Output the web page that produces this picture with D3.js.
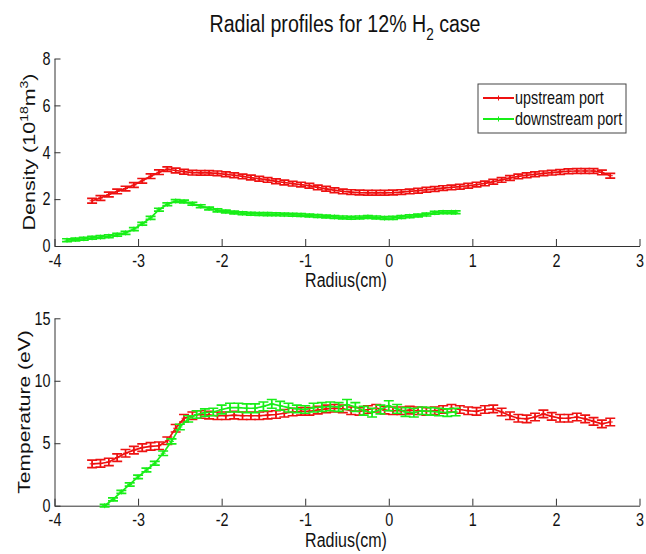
<!DOCTYPE html>
<html>
<head>
<meta charset="utf-8">
<script src="https://cdn.jsdelivr.net/npm/d3@7"></script>
<style>
  body { margin: 0; background: #fff; }
  svg text { font-family: "Liberation Sans", Arial, sans-serif; fill: #111; }
</style>
</head>
<body>
<div id="chart"></div>
<script>
// upstream port (red) – radius in cm
var upRadius = [-3.55,-3.45,-3.35,-3.25,-3.15,-3.05,-2.95,-2.85,-2.75,-2.65,-2.55,-2.45,-2.35,-2.25,-2.15,-2.05,
	-1.95,-1.85,-1.75,-1.65,-1.55,-1.45,-1.35,-1.25,-1.15,-1.05,-0.95,-0.85,-0.75,-0.65,-0.55,-0.45,-0.35,-0.25,
	-0.15,-0.05,0.05,0.15,0.25,0.35,0.45,0.55,0.65,0.75,0.85,0.95,1.05,1.15,1.25,1.35,1.45,1.55,1.65,1.75,1.85,
	1.95,2.05,2.15,2.25,2.35,2.45,2.55,2.65];
var upDensity = [1.93,2.05,2.2,2.33,2.45,2.6,2.78,2.98,3.15,3.28,3.22,3.17,3.13,3.12,3.12,3.1,
	3.06,3.02,2.97,2.92,2.87,2.82,2.76,2.71,2.66,2.62,2.57,2.5,2.44,2.38,2.33,2.3,2.28,2.27,
	2.27,2.27,2.28,2.3,2.33,2.36,2.4,2.43,2.47,2.5,2.53,2.57,2.62,2.67,2.74,2.82,2.9,2.97,3.02,3.06,3.1,
	3.13,3.16,3.19,3.2,3.2,3.2,3.14,3.0];
var upTemp = [3.35,3.38,3.5,3.85,4.2,4.45,4.65,4.75,4.8,5.2,6.2,7.0,7.2,7.3,7.25,7.2,
	7.2,7.25,7.2,7.2,7.2,7.25,7.3,7.4,7.5,7.55,7.55,7.65,7.75,7.8,7.75,7.6,7.55,7.7,
	7.8,7.65,7.6,7.6,7.65,7.6,7.55,7.6,7.7,7.8,7.7,7.6,7.55,7.7,7.75,7.5,7.2,7.0,6.95,7.1,7.35,
	7.15,7.0,7.0,7.1,6.95,6.75,6.55,6.7];
var upDensityErr = 0.1;
var upTempErr = 0.3;

// downstream port (green)
var downRadiusN = [-3.85,-3.75,-3.65,-3.55,-3.45,-3.35,-3.25,-3.15,-3.05,-2.95,-2.85,-2.75,-2.65,-2.55,-2.45,
	-2.35,-2.25,-2.15,-2.05,-1.95,-1.85,-1.75,-1.65,-1.55,-1.45,-1.35,-1.25,-1.15,-1.05,-0.95,-0.85,-0.75,
	-0.65,-0.55,-0.45,-0.35,-0.25,-0.15,-0.05,0.05,0.15,0.25,0.35,0.45,0.55,0.65,0.75,0.8];
var downDensity = [0.25,0.28,0.31,0.35,0.38,0.42,0.48,0.56,0.72,0.95,1.2,1.55,1.78,1.92,1.9,
	1.8,1.7,1.6,1.52,1.47,1.43,1.4,1.38,1.37,1.36,1.35,1.34,1.33,1.32,1.3,1.28,1.26,
	1.24,1.22,1.21,1.22,1.24,1.22,1.19,1.2,1.24,1.27,1.3,1.34,1.42,1.44,1.44,1.44];
var downDensityErr = 0.06;

var downRadiusT = [-3.4,-3.3,-3.2,-3.1,-3.0,-2.9,-2.8,-2.7,-2.6,-2.5,-2.4,-2.3,-2.2,-2.1,-2.0,-1.9,-1.8,
	-1.7,-1.6,-1.5,-1.4,-1.3,-1.2,-1.1,-1.0,-0.9,-0.8,-0.7,-0.6,-0.5,-0.4,-0.3,-0.2,-0.1,0.0,0.1,0.2,
	0.3,0.4,0.5,0.6,0.7,0.8];
var downTemp = [0.0,0.5,1.1,1.7,2.3,2.85,3.4,4.2,5.15,6.3,6.95,7.3,7.45,7.5,7.7,7.85,7.85,
	7.8,7.8,7.95,8.15,8.0,7.85,7.75,7.7,7.85,7.9,7.95,7.9,8.1,7.9,7.6,7.45,7.7,8.0,7.75,7.5,
	7.45,7.6,7.55,7.5,7.45,7.5];
var downTempErr = [0.1,0.12,0.12,0.13,0.14,0.15,0.15,0.18,0.2,0.22,0.25,0.3,0.3,0.3,0.35,0.35,0.35,
	0.35,0.35,0.35,0.35,0.35,0.35,0.3,0.3,0.35,0.35,0.35,0.35,0.4,0.35,0.35,0.35,0.35,0.4,0.35,0.35,
	0.35,0.3,0.3,0.3,0.3,0.3];

var xTicks = [-4,-3,-2,-1,0,1,2,3];
var densityTicks = [0,2,4,6,8];
var tempTicks = [0,5,10,15];
var seriesNames = ["upstream port", "downstream port"];

var RED = "#ee1111", GREEN = "#18ee18";
var CAP = 5;
var SQUEEZE = 0.8;   // the picture's text is narrow

var svg = d3.select("#chart").append("svg")
	.attr("width", 646)
	.attr("height", 554);

var x = d3.scaleLinear().domain([-4, 3]).range([54.5, 639.5]);
var yTop = d3.scaleLinear().domain([0, 8]).range([246, 58.5]);
var yBot = d3.scaleLinear().domain([0, 15]).range([505.7, 318.3]);

function zip(xs, ys, err) {
	return xs.map(function (r, i) {
		return { r: r, v: ys[i], e: Array.isArray(err) ? err[i] : err };
	});
}

function plain(d) { return String(d); }

function drawAxes(y, ticks, y0) {
	var gx = svg.append("g")
		.attr("transform", "translate(0," + y0 + ")")
		.call(d3.axisBottom(x).tickValues(xTicks).tickFormat(plain)
			.tickSizeInner(-7).tickSizeOuter(0).tickPadding(8));
	var gy = svg.append("g")
		.attr("transform", "translate(" + x.range()[0] + ",0)")
		.call(d3.axisLeft(y).tickValues(ticks).tickFormat(plain)
			.tickSizeInner(-6).tickSizeOuter(0).tickPadding(5));
	[gx, gy].forEach(function (g) {
		g.select(".domain").attr("stroke", "#333").attr("stroke-width", 1);
		g.selectAll(".tick line").attr("stroke", "#333");
		g.selectAll(".tick text")
			.attr("font-size", 18)
			.attr("transform", "scale(" + SQUEEZE + ",1)")
			.style("fill", "#111");
	});
}

function drawSeries(y, data, color) {
	var g = svg.append("g").attr("stroke", color).attr("fill", "none").attr("stroke-width", 1.7);
	g.append("path")
		.attr("d", d3.line().x(function (d) { return x(d.r); }).y(function (d) { return y(d.v); })(data));
	g.selectAll(".eb").data(data).enter().append("path")
		.attr("d", function (d) {
			var cx = x(d.r), lo = y(d.v - d.e), hi = y(d.v + d.e);
			return "M" + cx + "," + lo + "V" + hi +
				"M" + (cx - CAP) + "," + hi + "H" + (cx + CAP) +
				"M" + (cx - CAP) + "," + lo + "H" + (cx + CAP);
		});
	g.selectAll(".mk").data(data).enter().append("path")
		.attr("stroke-width", 1)
		.attr("d", function (d) {
			var cx = x(d.r), cy = y(d.v);
			return "M" + (cx - 2.5) + "," + cy + "H" + (cx + 2.5) + "M" + cx + "," + (cy - 2.5) + "V" + (cy + 2.5);
		});
}

function narrowText(px, py, size) {
	return svg.append("text")
		.attr("transform", "translate(" + px + "," + py + ") scale(" + SQUEEZE + ",1)")
		.attr("text-anchor", "middle")
		.attr("font-size", size);
}

function sideText(px, py, size) {
	return svg.append("text")
		.attr("transform", "translate(" + px + "," + py + ") rotate(-90) scale(1," + SQUEEZE + ")")
		.attr("text-anchor", "middle")
		.attr("font-size", size);
}

// title
var title = narrowText(345, 32, 24.5);
title.append("tspan").text("Radial profiles for 12% H");
title.append("tspan").attr("font-size", 17).attr("dy", 8).text("2");
title.append("tspan").attr("dy", -8).text(" case");

// top panel: density
drawAxes(yTop, densityTicks, 246);
drawSeries(yTop, zip(upRadius, upDensity, upDensityErr), RED);
drawSeries(yTop, zip(downRadiusN, downDensity, downDensityErr), GREEN);

var dl = sideText(35, 152, 21.5);
dl.append("tspan").text("Density (10");
dl.append("tspan").attr("font-size", 14).attr("dy", -9).text("18");
dl.append("tspan").attr("dy", 9).text("m");
dl.append("tspan").attr("font-size", 14).attr("dy", -9).text("3");
dl.append("tspan").attr("dy", 9).text(")");

narrowText(346, 287, 20).text("Radius(cm)");

// legend
var legend = svg.append("g").attr("transform", "translate(478,84)");
legend.append("rect")
	.attr("width", 148).attr("height", 49)
	.attr("fill", "#fff").attr("stroke", "#444").attr("stroke-width", 1);
[RED, GREEN].forEach(function (c, i) {
	var ly = 14 + i * 21;
	legend.append("line")
		.attr("x1", 5).attr("x2", 36).attr("y1", ly).attr("y2", ly)
		.attr("stroke", c).attr("stroke-width", 2);
	legend.append("path")
		.attr("stroke", c).attr("stroke-width", 1)
		.attr("d", "M20.5," + (ly - 2.5) + "V" + (ly + 2.5));
	legend.append("text")
		.attr("transform", "translate(37," + (ly + 6) + ") scale(" + SQUEEZE + ",1)")
		.attr("font-size", 18)
		.text(seriesNames[i]);
});

// bottom panel: temperature
drawAxes(yBot, tempTicks, 505.7);
drawSeries(yBot, zip(upRadius, upTemp, upTempErr), RED);
drawSeries(yBot, zip(downRadiusT, downTemp, downTempErr), GREEN);

sideText(30, 412, 21).text("Temperature (eV)");

narrowText(346, 547, 20).text("Radius(cm)");
</script>
</body>
</html>
